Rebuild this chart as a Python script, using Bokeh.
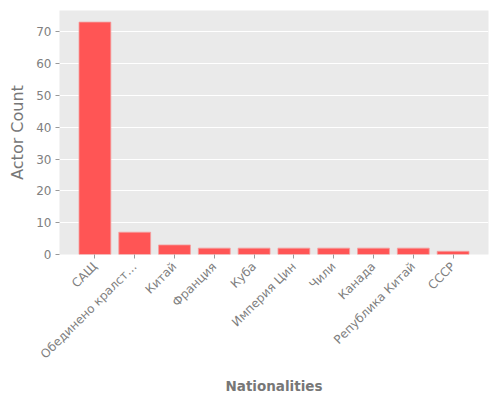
from bokeh.plotting import figure
from bokeh.models import FixedTicker, Range1d, ColumnDataSource
from bokeh.embed import file_html
from bokeh.resources import INLINE
import math

categories = ["САЩ", "Обединено кралст…", "Китай", "Франция", "Куба",
              "Империя Цин", "Чили", "Канада", "Република Китай", "СССР"]
counts = [73, 7, 3, 2, 2, 2, 2, 2, 2, 1]
y_ticks = [0, 10, 20, 30, 40, 50, 60, 70]

xs = list(range(len(categories)))
src = ColumnDataSource(dict(x=xs, top=counts))

ymax = max(counts) * 1.05

p = figure(frame_width=429, frame_height=244, output_backend="svg", toolbar_location=None,
           x_range=Range1d(-0.89, len(categories) - 1 + 0.89),
           y_range=Range1d(0, ymax),
           min_border_left=59, min_border_right=4, min_border_top=10, min_border_bottom=138)
p.background_fill_color = "#EAEAEA"
p.border_fill_color = "white"
p.outline_line_color = None

p.vbar(x="x", top="top", width=0.8, bottom=0, source=src,
       fill_color="#FF5555", line_color="#F4A0A0", line_width=0.8)

p.xaxis.ticker = FixedTicker(ticks=xs)
p.xaxis.major_label_overrides = {i: c for i, c in enumerate(categories)}
p.xaxis.major_label_orientation = math.pi / 4
p.yaxis.ticker = FixedTicker(ticks=y_ticks)

for ax in (p.xaxis, p.yaxis):
    ax.axis_line_color = None
    ax.major_tick_line_color = "#999999"
    ax.major_tick_out = 4
    ax.major_tick_in = 0
    ax.minor_tick_line_color = None
    ax.major_label_text_color = "#808080"
    ax.major_label_text_font = "DejaVu Sans"
    ax.major_label_text_font_size = "12px"
    ax.major_label_standoff = 4
    ax.axis_label_text_color = "#777777"
    ax.axis_label_text_font = "DejaVu Sans"

p.xaxis.major_label_standoff = 6

p.yaxis.axis_label = "Actor Count"
p.yaxis.axis_label_text_font_size = "16px"
p.yaxis.axis_label_text_font_style = "normal"
p.yaxis.axis_label_standoff = 6

p.xaxis.axis_label = "Nationalities"
p.xaxis.axis_label_text_font_size = "13.5px"
p.xaxis.axis_label_text_font_style = "bold"
p.xaxis.axis_label_standoff = 9

p.xgrid.grid_line_color = None
p.ygrid.grid_line_color = "white"
p.ygrid.grid_line_width = 1

open("out.html", "w").write(file_html(p, INLINE))
